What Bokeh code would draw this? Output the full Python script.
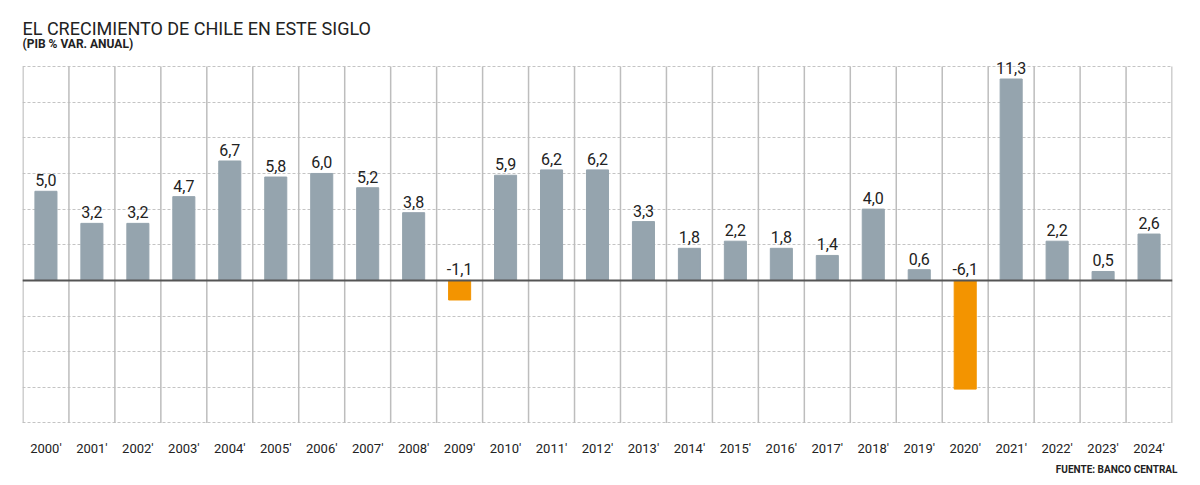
from bokeh.plotting import figure
from bokeh.models import ColumnDataSource, FixedTicker, Span, Title, LabelSet
from bokeh.core.properties import value
from bokeh.embed import file_html
from bokeh.resources import INLINE

years = [f"{y}'" for y in range(2000, 2025)]
growth = [5.0, 3.2, 3.2, 4.7, 6.7, 5.8, 6.0, 5.2, 3.8, -1.1,
          5.9, 6.2, 6.2, 3.3, 1.8, 2.2, 1.8, 1.4, 4.0, 0.6,
          -6.1, 11.3, 2.2, 0.5, 2.6]
y_ticks = [-8, -6, -4, -2, 0, 2, 4, 6, 8, 10, 12]
y_lo, y_hi = -8, 12

POS = "#95a4ae"
NEG = "#f39400"

n = len(years)
xs = [i + 0.5 for i in range(n)]
edges = list(range(n + 1))
src = ColumnDataSource(dict(
    x=xs,
    top=growth,
    color=[POS if v >= 0 else NEG for v in growth],
    label=[f"{v:.1f}".replace(".", ",") for v in growth],
    ly=[max(v, 0) for v in growth],
))

p = figure(width=1184, height=477, x_range=(-0.01, n + 0.01), y_range=(y_lo - 0.03, y_hi + 0.9),
           output_backend="svg", toolbar_location=None, title=None,
           min_border_left=22, min_border_right=12, min_border_top=50,
           min_border_bottom=30)
p.outline_line_color = None
p.background_fill_color = "white"
p.border_fill_color = "white"

p.add_layout(Title(text="(PIB % VAR. ANUAL)", text_font="Roboto",
                   text_font_size="12px", text_font_style="bold",
                   text_color="#222222", offset=0, standoff=0,
                   text_line_height=0.8), "above")
p.add_layout(Title(text="EL CRECIMIENTO DE CHILE EN ESTE SIGLO", text_font="Roboto",
                   text_font_size="18px", text_font_style="normal",
                   text_color="#222222", offset=0, standoff=-8), "above")

# grids
p.xgrid.visible = False
p.ygrid.ticker = FixedTicker(ticks=y_ticks)
p.ygrid.grid_line_color = "#c4c4c4"
p.ygrid.grid_line_dash = "3 2"
p.ygrid.grid_line_width = 1

p.segment(x0=edges, y0=y_lo, x1=edges, y1=y_hi, line_color="#bdbdbd", line_width=1.5)

p.vbar(x="x", top="top", bottom=0, width=0.48, color="color", source=src)

p.add_layout(Span(location=0, dimension="width", line_color="#555555", line_width=2))

p.add_layout(LabelSet(x="x", y="ly", text="label", source=src, text_align="center",
                      text_baseline="bottom", y_offset=5, text_font=value("Roboto"),
                      text_font_size="16px", text_color="#222222"))

p.yaxis.visible = False
p.xaxis.ticker = FixedTicker(ticks=xs)
p.xaxis.major_label_overrides = {x: y for x, y in zip(xs, years)}
p.xaxis.axis_line_color = None
p.xaxis.major_tick_line_color = None
p.xaxis.minor_tick_line_color = None
p.xaxis.major_label_standoff = 11
p.xaxis.major_label_text_font = "Roboto"
p.xaxis.major_label_text_font_size = "13px"
p.xaxis.major_label_text_color = "#222222"

p.add_layout(Title(text="FUENTE: BANCO CENTRAL", align="right", text_font="Roboto",
                   text_font_size="10px", text_font_style="bold",
                   text_color="#222222", standoff=6, offset=-5), "below")

open("out.html", "w").write(file_html(p, INLINE))
